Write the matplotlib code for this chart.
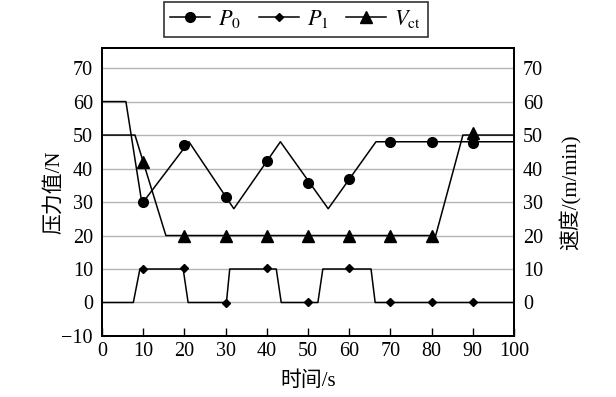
import matplotlib
matplotlib.use("Agg")
import matplotlib.pyplot as plt
from matplotlib.lines import Line2D

plt.rcParams['font.family'] = ['Liberation Serif', 'Noto Sans CJK SC']
plt.rcParams['mathtext.fontset'] = 'stix'

# breakpoints of the three curves (time s, value)
p0_t = [0, 5.8, 9.7, 21.1, 32.0, 43.3, 54.9, 66.5, 100]
p0_v = [60, 60, 29.5, 48, 28, 48, 28, 48, 48]
p1_t = [0, 7.6, 9.2, 19.7, 20.9, 30.2, 31.0, 42.3, 43.5, 52.4, 53.6, 65.3, 66.3, 100]
p1_v = [0, 0, 10, 10, 0, 0, 10, 10, 0, 0, 10, 10, 0, 0]
vct_t = [0, 8.0, 15.5, 81.0, 87.6, 100]
vct_v = [50, 50, 20, 20, 50, 50]

# sampled marker points
mark_t = [10, 20, 30, 40, 50, 60, 70, 80, 90]
p0_mark = [30, 46.9, 31.5, 42.3, 35.8, 36.8, 47.9, 47.8, 47.6]
p1_mark = [10, 10.2, -0.3, 10.2, 0, 10.2, 0, 0, 0]
vct_mark = [42, 20, 20, 20, 20, 20, 20, 20, 50.5]

yticks = [-10, 0, 10, 20, 30, 40, 50, 60, 70]
xticks = [0, 10, 20, 30, 40, 50, 60, 70, 80, 90, 100]

fig = plt.figure(figsize=(6.16, 3.97), dpi=100)
ax = fig.add_axes([0.1656, 0.1537, 0.6688, 0.7254])
ax2 = ax.twinx()

lw = 1.1
ax.plot(p0_t, p0_v, color='black', lw=lw)
ax.plot(mark_t, p0_mark, 'o', color='black', ms=7)
ax.plot(p1_t, p1_v, color='black', lw=lw)
ax.plot(mark_t, p1_mark, 'D', color='black', ms=4.5)
ax2.plot(vct_t, vct_v, color='black', lw=lw)
ax2.plot(mark_t, vct_mark, '^', color='black', ms=8)

for a in (ax, ax2):
    a.set_ylim(-10, 76)
    a.set_xlim(0, 100)
ax.set_yticks(yticks)
ax2.set_yticks(yticks[1:])
ax.set_xticks(xticks)
ax.yaxis.grid(True, color='#b4b4b4', lw=1.0)
ax.set_axisbelow(True)

ax.tick_params(axis='x', direction='in', length=6, width=1, labelsize=14.5, pad=4)
ax.tick_params(axis='y', length=0, labelsize=14.5, pad=6.5)
ax2.tick_params(axis='y', length=0, labelsize=14.5, pad=6.5)
for a in (ax, ax2):
    for s in a.spines.values():
        s.set_linewidth(1.4)

ax.set_xlabel('时间/s', fontsize=15, labelpad=8)
ax.set_ylabel('压力值/N', fontsize=15, labelpad=-2)
ax2.set_ylabel('速度/(m/min)', fontsize=15, rotation=90, labelpad=12)

handles = [
    Line2D([], [], color='black', lw=lw, marker='o', ms=7),
    Line2D([], [], color='black', lw=lw, marker='D', ms=4.5),
    Line2D([], [], color='black', lw=lw, marker='^', ms=8),
]
labels = [r'$P_0$', r'$P_1$', r'$V_{\mathrm{ct}}$']
leg = fig.legend(handles, labels, loc='lower center', bbox_to_anchor=(0.48, 0.907),
                 ncol=3, fontsize=16, frameon=True, fancybox=False,
                 edgecolor='black', handlelength=1.8, columnspacing=0.8,
                 handletextpad=0.35, borderpad=0.3, borderaxespad=0)
leg.get_frame().set_linewidth(1.2)

fig.savefig('out.png', dpi=100)
